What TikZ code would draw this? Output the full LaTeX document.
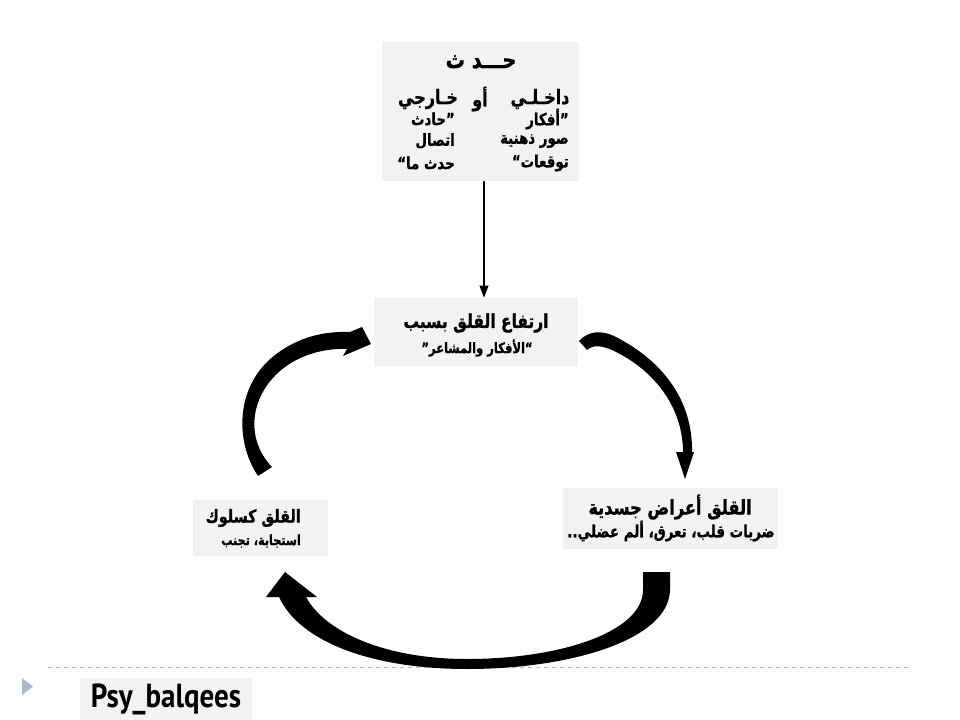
\documentclass[tikz,border=0pt]{standalone}
\usepackage{fontspec}
\newfontfamily\arabicfont[Script=Arabic,FakeStretch=0.8,BoldFeatures={FakeBold=0.9}]{DejaVu Sans}
\newfontfamily\footfont[FakeStretch=0.87]{PT Sans}
\TeXXeTstate=1
\usetikzlibrary{arrows.meta,fit}
\definecolor{boxgray}{HTML}{F2F2F2}
\definecolor{lineblue}{HTML}{A9BACD}
\begin{document}
\begin{tikzpicture}[x=0.75pt,y=-0.75pt,
  box/.style={fill=boxgray,draw=none,inner sep=0pt},
  ar/.style={font=\arabicfont\bfseries\fontsize{#1}{#1}\selectfont,inner sep=0pt},
  blk/.style={fill=black,draw=none}]
\useasboundingbox (0,0) rectangle (960,720);

% boxes
\node[box,fit={(382,42)(579,181)}] (top) {};
\node[box,fit={(374,298)(578,366)}] (midbox) {};
\node[box,fit={(193,500)(328,556)}] (left) {};
\node[box,fit={(563,488)(778,549)}] (right) {};
\node[box,fit={(80,678)(252,720)}] (foot) {};

% top box text
\node[ar=18] (t1) at (481,62) {\beginR حـــد ث\endR};
\node[ar=15] (t2a) at (540,99) {\beginR داخـلـي\endR};
\node[ar=15] (t2b) at (480,99) {\beginR أو\endR};
\node[ar=15] (t2c) at (428,99) {\beginR خـارجي\endR};
\node[ar=12.5,anchor=east] (r1) at (569,119) {\beginR ”أفكار\endR};
\node[ar=12.5,anchor=east] (r2) at (569,141) {\beginR صور ذهنية\endR};
\node[ar=12.5,anchor=east] (r3) at (569,163) {\beginR توقعات“\endR};
\node[ar=12.5,anchor=east] (l1) at (455,119) {\beginR ”حادث\endR};
\node[ar=12.5,anchor=east] (l2) at (455,141) {\beginR اتصال\endR};
\node[ar=12.5,anchor=east] (l3) at (455,163) {\beginR حدث ما“\endR};

% middle box text
\node[ar=14.5] (m1) at (476,323) {\beginR ارتفاع القلق بسبب\endR};
\node[ar=10.8] (m2) at (477,348) {\beginR “الأفكار والمشاعر”\endR};

% left box text
\node[ar=13.4,anchor=east] (lb1) at (301,518) {\beginR القلق كسلوك\endR};
\node[ar=10.5,anchor=east] (lb2) at (301,541) {\beginR استجابة، تجنب\endR};

% right box text
\node[ar=15.2] (rb1) at (670,507) {\beginR القلق أعراض جسدية\endR};
\node[ar=12.6] (rb2) at (671,531) {\beginR ضربات قلب، تعرق، ألم عضلي..\endR};

% straight arrow
\coordinate (ax) at (484,0);
\draw[line width=1.1pt,-{Triangle[length=9pt,width=6.5pt]}] (top.south -| ax) -- (midbox.north -| ax);

% footer
\draw[lineblue,dashed,line width=0.6pt] (48,667) -- (912,667);
\fill[lineblue] (22,678) -- (33,686.5) -- (22,695) -- cycle;
\node[font=\footfont\bfseries\fontsize{25}{27}\selectfont,inner sep=0pt] (ft) at (foot.center) {Psy\_balqees};

% curved block arrows
\fill[blk] (258,476) .. controls (234,440) and (236,385) .. (275,355)
  .. controls (297,338) and (322,331) .. (350,332) -- (362,327) -- (371,344) -- (343,356) -- (347,349)
  .. controls (322,348) and (300,356) .. (285,367)
  .. controls (250,393) and (244,438) .. (272,467) -- cycle;

\fill[blk] (579,341) .. controls (588,331) and (601,330) .. (614,336)
  .. controls (662,360) and (693,400) .. (692,452) -- (694,452) -- (685,479) -- (676,452) -- (683,452)
  .. controls (683,408) and (655,370) .. (612,350)
  .. controls (600,345) and (593,345) .. (587,350) -- cycle;

\fill[blk] (643,572) -- (670,572) -- (670,590) .. controls (669,640) and (570,669) .. (467,669)
  .. controls (372,669) and (300,642) .. (279,597) -- (266,597) -- (285,572) -- (317,597) -- (306,597)
  .. controls (325,632) and (385,659) .. (467,659)
  .. controls (560,659) and (643,632) .. (643,590) -- cycle;
\end{tikzpicture}
\end{document}
